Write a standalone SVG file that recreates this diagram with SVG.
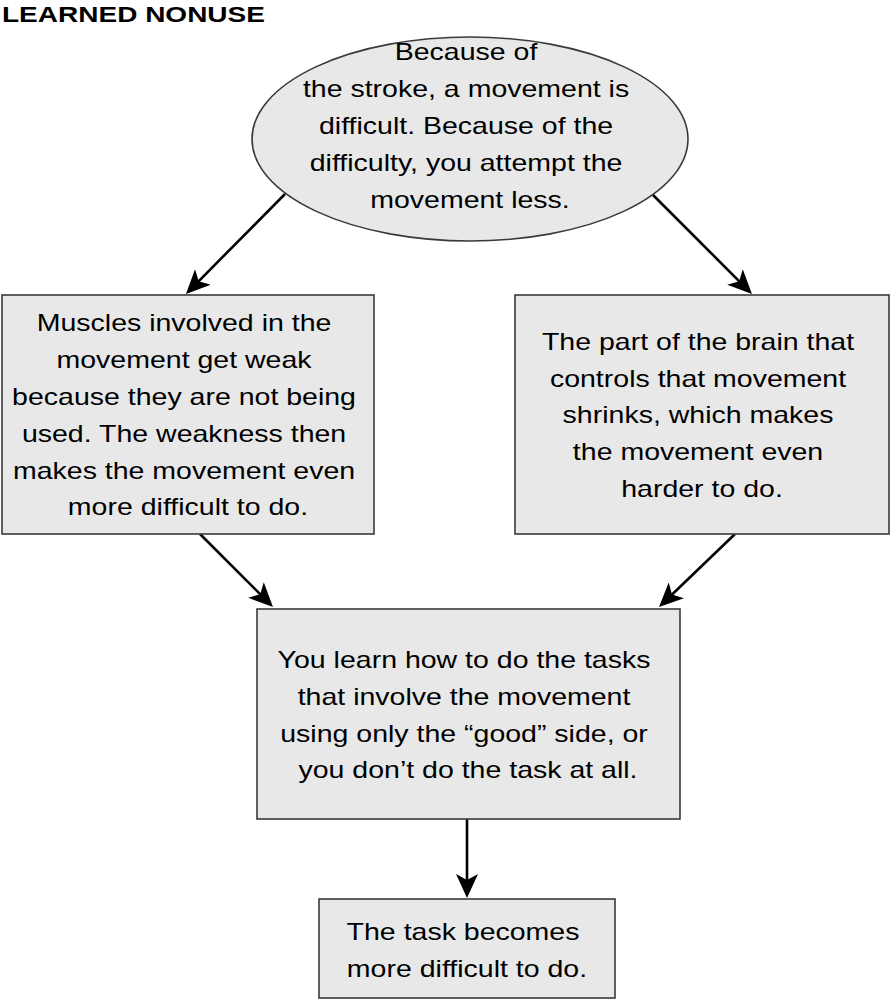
<svg xmlns="http://www.w3.org/2000/svg" width="890" height="1000" viewBox="0 0 890 1000">
<style>
.node{fill:#e8e8e8;stroke:#3a3a3a;stroke-width:1.6}
.t{font-family:"Liberation Sans",Arial,sans-serif;font-size:23px;fill:#000;text-anchor:middle}
.title{font-family:"Liberation Sans",Arial,sans-serif;font-size:22.6px;font-weight:bold;fill:#000}
.c{stroke:#000;stroke-width:2.6;fill:none;marker-end:url(#ah)}
</style>
<defs>
<marker id="ah" markerUnits="userSpaceOnUse" markerWidth="24" markerHeight="22" refX="16" refY="11" orient="auto" viewBox="0 0 24 22">
<path d="M0,0 L24,11 L0,22 L6,11 z" fill="#000"/>
</marker>
</defs>
<rect width="890" height="1000" fill="#fff"/>
<text class="title" transform="translate(2 0) scale(1.24 1)" x="0" y="22">LEARNED NONUSE</text>

<g id="connectors">
<line class="c" x1="285" y1="194" x2="191.6" y2="288.3"/>
<line class="c" x1="653" y1="195" x2="746.3" y2="288.3"/>
<line class="c" x1="200" y1="534" x2="267.3" y2="601.3"/>
<line class="c" x1="735" y1="534" x2="664.8" y2="601.5"/>
<line class="c" x1="467" y1="819" x2="467" y2="890"/>
</g>

<g id="cause">
<ellipse class="node" cx="470" cy="139" rx="218" ry="102" stroke-width="1.2"/>
<text class="t" transform="translate(470 0) scale(1.24 1)">
<tspan x="0" y="60">Because of</tspan>
<tspan x="0" y="97">the stroke, a movement is</tspan>
<tspan x="0" y="134">difficult. Because of the</tspan>
<tspan x="0" y="171">difficulty, you attempt the</tspan>
<tspan x="0" y="208">movement less.</tspan>
</text>
</g>

<g id="muscles">
<rect class="node" x="2" y="295" width="372" height="239"/>
<text class="t" transform="translate(188 0) scale(1.24 1)">
<tspan x="0" y="331">Muscles involved in the</tspan>
<tspan x="0" y="368">movement get weak</tspan>
<tspan x="0" y="405">because they are not being</tspan>
<tspan x="0" y="442">used. The weakness then</tspan>
<tspan x="0" y="479">makes the movement even</tspan>
<tspan x="0" y="515">more difficult to do.</tspan>
</text>
</g>

<g id="brain">
<rect class="node" x="515" y="295" width="374" height="239"/>
<text class="t" transform="translate(702 0) scale(1.24 1)">
<tspan x="0" y="350">The part of the brain that</tspan>
<tspan x="0" y="387">controls that movement</tspan>
<tspan x="0" y="423">shrinks, which makes</tspan>
<tspan x="0" y="460">the movement even</tspan>
<tspan x="0" y="497">harder to do.</tspan>
</text>
</g>

<g id="learn">
<rect class="node" x="257" y="609" width="423" height="210"/>
<text class="t" transform="translate(468 0) scale(1.24 1)">
<tspan x="0" y="668">You learn how to do the tasks</tspan>
<tspan x="0" y="705">that involve the movement</tspan>
<tspan x="0" y="742">using only the “good” side, or</tspan>
<tspan x="0" y="778">you don’t do the task at all.</tspan>
</text>
</g>

<g id="result">
<rect class="node" x="319" y="899" width="296" height="99"/>
<text class="t" transform="translate(467 0) scale(1.24 1)">
<tspan x="0" y="940">The task becomes</tspan>
<tspan x="0" y="977">more difficult to do.</tspan>
</text>
</g>
</svg>
